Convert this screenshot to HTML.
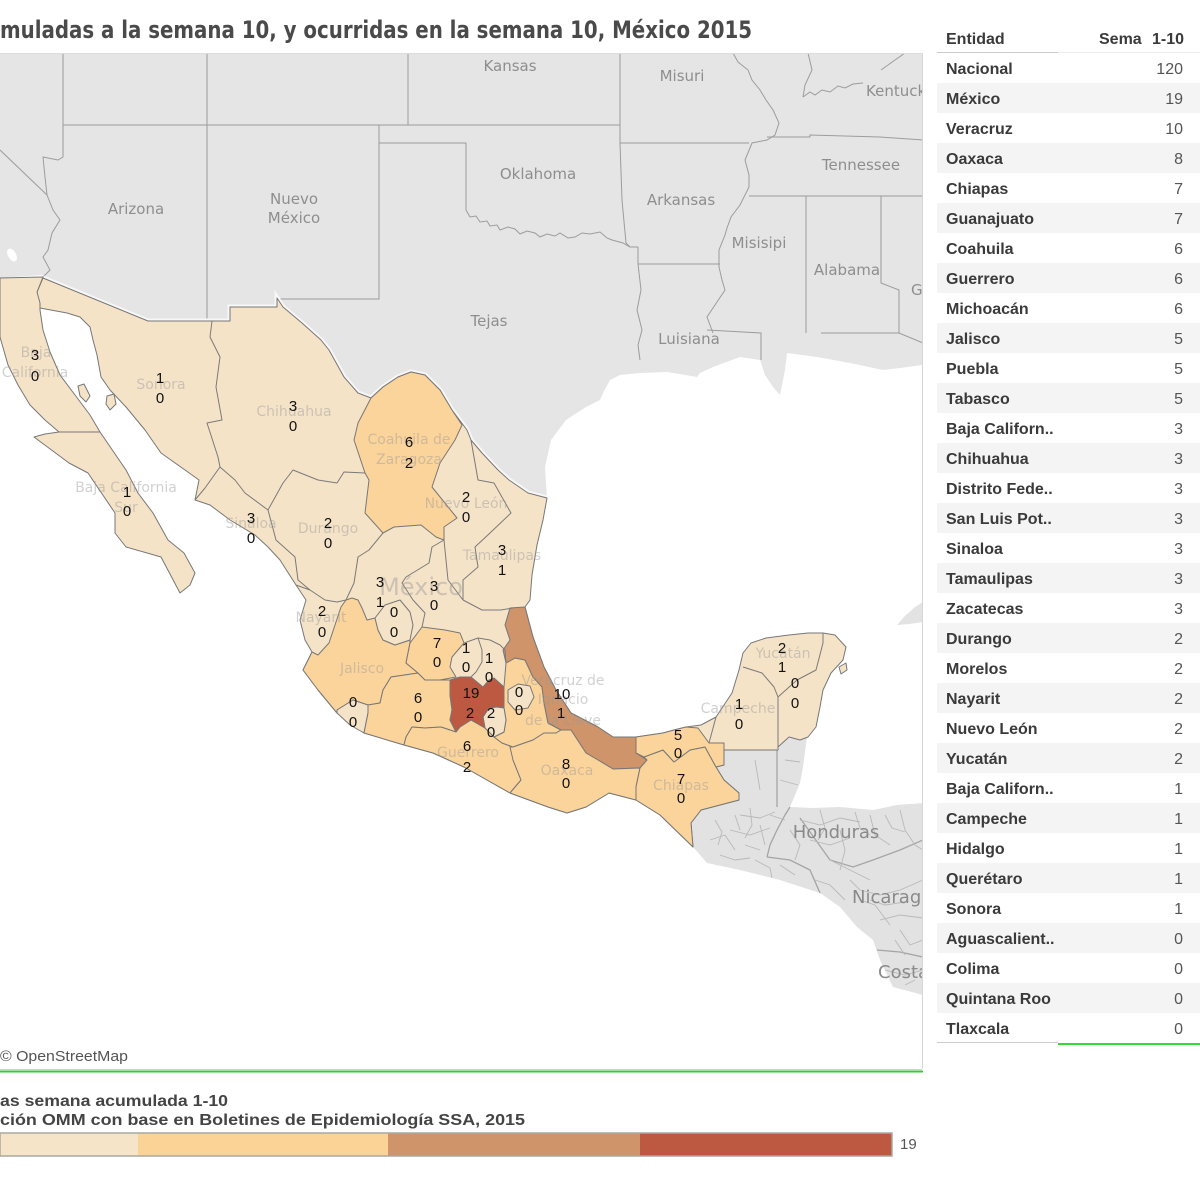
<!DOCTYPE html>
<html><head><meta charset="utf-8"><style>
html,body{margin:0;padding:0;background:#fff;width:1200px;height:1199px;overflow:hidden}
svg{display:block}
.us{font-family:"DejaVu Sans",sans-serif;font-size:15px;fill:#8e8e8e}
.ca{font-family:"DejaVu Sans",sans-serif;font-size:18px;fill:#8a8a8a}
.st{font-family:"DejaVu Sans",sans-serif;font-size:14px;fill:#9a9a9a;opacity:.45;text-anchor:middle}
.n{font-family:"Liberation Sans",Arial,sans-serif;font-size:15px;fill:#111;text-anchor:middle}
.tb{font-family:"Liberation Sans",Arial,sans-serif;font-size:16px;font-weight:bold;fill:#3a3a3a}
.tv{font-family:"Liberation Sans",Arial,sans-serif;font-size:16px;fill:#555;text-anchor:end}
.ln{fill:none;stroke:#9c9c9c;stroke-width:1}
.mx{stroke:#777;stroke-width:1;stroke-linejoin:round}
.ib{fill:none;stroke:#7a7a7a;stroke-width:1;stroke-linejoin:round}
.cl{fill:none;stroke:#b8b8b8;stroke-width:.9}
</style></head><body>
<svg width="1200" height="1199" viewBox="0 0 1200 1199" xmlns="http://www.w3.org/2000/svg">
<defs><clipPath id="mc"><rect x="0" y="54" width="922" height="1015"/></clipPath></defs>

<text x="0" y="38" font-family="DejaVu Sans Condensed, DejaVu Sans, sans-serif" font-size="24" font-weight="bold" fill="#4a4a4a" textLength="752" lengthAdjust="spacingAndGlyphs">muladas a la semana 10, y ocurridas en la semana 10, México 2015</text>

<g clip-path="url(#mc)">
<rect x="0" y="53" width="922" height="1017" fill="#fff"/>
<path fill="#e5e5e5" d="M0,53 L922,53 L922,365 L900,368 L883,370 L850,363 L817,357 L787,353 L785,370 L780,395 L773,387 L765,375 L760,360 L740,357 L713,367 L700,373 L697,377 L667,372 L640,373 L620,375 L610,380 L603,393 L600,400 L586,407 L566,420 L551,440 L545,467 L547,498 L528,493 L509,480 L498,470 L482,453 L471,440 L467,430 L452,410 L440,390 L425,375 L411,372 L398,377 L383,387 L371,398 L358,393 L344,377 L329,350 L321,340 L302,323 L283,307 L277,298 L277,307 L230,307 L230,321 L148,321 L43,280 L43,275 L0,278 Z"/>
<ellipse cx="12" cy="255" rx="4" ry="7" fill="#fff" transform="rotate(-30 12 255)"/>
<path fill="#e3e3e3" d="M897,625 L905,616 L915,607 L923,602 L923,622 L910,624 Z"/>
<path fill="#e2e2e2" d="M724,750 L777,750 L777,742 L790,738 L797,733 L807,737 L803,767 L800,783 L790,807 L813,808 L840,807 L873,810 L897,805 L923,803 L923,995 L893,987 L880,960 L873,940 L857,927 L840,907 L820,893 L780,880 L740,870 L707,863 L693,847 L691,823 L701,810 L739,800 L739,793 L724,780 L716,767 L724,765 Z"/>
<g class="cl">
<path d="M777,750 L777,807" stroke="#a5a5a5" stroke-width="1.3"/>
<path d="M790,807 L785,815 L777,830 L770,845 L767,857" stroke="#a5a5a5" stroke-width="1.3"/>
<path d="M767,857 L790,860 L810,870 L820,893" stroke="#a5a5a5" stroke-width="1.3"/>
<path d="M800,818 L830,860 L853,867 L873,860 L900,850 L923,840" stroke="#a5a5a5" stroke-width="1.3"/>
<path d="M877,950 L900,952 L923,957" stroke="#a5a5a5" stroke-width="1.3"/>
<path d="M725,790 L738,796"/><path d="M740,815 L760,818 L775,812"/><path d="M730,830 L750,835 L770,828"/>
<path d="M745,845 L760,850"/><path d="M710,840 L725,835 L735,850"/><path d="M800,820 L820,825 L840,818 L860,822"/>
<path d="M810,840 L830,845 L850,838"/><path d="M830,860 L850,870 L870,880"/><path d="M860,890 L880,895 L900,890 L923,880"/>
<path d="M880,920 L900,915 L923,918"/><path d="M790,830 L800,845 L795,860"/><path d="M840,830 L845,850 L840,870"/>
<path d="M760,825 L765,845"/><path d="M900,810 L905,830 L915,845 L923,850"/><path d="M785,760 L800,762"/>
<path d="M780,780 L798,785"/><path d="M755,760 L760,790"/><path d="M870,815 L875,835 L890,845"/>
<path d="M860,900 L875,905 L890,925"/><path d="M900,930 L910,945 L923,940"/><path d="M885,970 L905,975 L923,970"/>
<path d="M720,855 L735,860 L750,858"/><path d="M780,865 L795,875"/><path d="M815,880 L830,885 L845,900"/>
<path d="M715,820 L722,832 L718,845"/><path d="M750,808 L752,825 L745,838"/><path d="M735,815 L740,830"/>
<path d="M770,815 L785,820"/><path d="M755,860 L770,868 L772,878"/><path d="M820,810 L825,828 L818,840"/>
<path d="M855,812 L860,828 L870,835"/><path d="M885,815 L892,828 L905,832"/><path d="M850,880 L860,890"/>
<path d="M870,900 L885,905 L905,902"/><path d="M895,940 L905,955"/><path d="M905,985 L915,980"/>
</g>
<g class="ln">
<path d="M63,53 L63,157 L58,160 L43,157 L45,177 L47,195 L53,210 L60,220 L52,233 L48,250 L43,257 L50,270 L43,277"/>
<path d="M0,150 L47,195"/>
<path d="M63,125 L620,125"/>
<path d="M207,53 L207,321"/>
<path d="M408,53 L408,125"/>
<path d="M379,125 L379,143 L466,143 L466,210 L470,217 L476,216 L480,222 L487,221 L490,226 L497,225 L500,230 L508,227 L515,229 L520,234 L527,231 L535,233 L540,237 L547,234 L555,236 L560,233 L568,238 L575,237 L582,233 L590,234 L600,232 L607,238 L612,240 L623,243 L630,247 L638,247"/>
<path d="M379,143 L379,299 L277,299"/>
<path d="M620,53 L620,143 L622,200 L626,243 L630,247"/>
<path d="M620,143 L749,143"/>
<path d="M638,247 L638,264 L641,290 L637,310 L642,330 L638,345 L640,360"/>
<path d="M638,264 L720,264"/>
<path d="M733,53 L738,62 L748,70 L752,80 L760,90 L766,100 L773,110 L779,123 L775,135 L767,140 L752,143 L745,160 L749,175 L749,187 L740,205 L731,217 L727,228 L725,235 L719,250 L719,267 L722,280 L725,290 L715,305 L707,317 L713,333"/>
<path d="M707,330 L761,333 L761,360"/>
<path d="M767,137 L810,137 L810,135 L880,137 L923,140"/>
<path d="M749,196 L923,196"/>
<path d="M806,196 L806,333"/>
<path d="M821,333 L899,333 L923,343"/>
<path d="M881,196 L881,283 L899,290 L899,333"/>
<path d="M803,97 L810,92 L815,95 L822,90 L830,92 L838,86 L845,88 L853,84 L863,83"/>
<path d="M808,53 L812,70 L805,85 L803,97"/>
<path d="M881,70 L895,60 L905,53"/>
</g>
<g class="us">
<text x="510" y="71" text-anchor="middle">Kansas</text>
<text x="682" y="81" text-anchor="middle">Misuri</text>
<text x="866" y="96">Kentucky</text>
<text x="538" y="179" text-anchor="middle">Oklahoma</text>
<text x="861" y="170" text-anchor="middle">Tennessee</text>
<text x="136" y="214" text-anchor="middle">Arizona</text>
<text x="294" y="204" text-anchor="middle">Nuevo</text>
<text x="294" y="223" text-anchor="middle">México</text>
<text x="681" y="205" text-anchor="middle">Arkansas</text>
<text x="759" y="248" text-anchor="middle">Misisipi</text>
<text x="847" y="275" text-anchor="middle">Alabama</text>
<text x="911" y="295">Georgia</text>
<text x="489" y="326" text-anchor="middle">Tejas</text>
<text x="689" y="344" text-anchor="middle">Luisiana</text>
</g>
<g class="ca">
<text x="836" y="838" text-anchor="middle">Honduras</text>
<text x="852" y="903">Nicaragua</text>
<text x="878" y="978">Costa Rica</text>
</g>

<path fill="none" stroke="#f7f7f7" stroke-width="5" d="M43,278 L148,321 L230,321 L230,307 L277,307 L277,298 L283,307 L302,323 L321,340 L329,350 L344,377 L358,393 L371,398 L383,387 L398,377 L411,372 L425,375 L440,390 L452,410 L467,430 L471,440 L482,453 L498,470 L509,480 L528,493 L547,498"/>
<path class="mx" fill="#f5e3c8" d="M43,278 L148,321 L230,321 L230,307 L277,307 L277,298 L283,307 L302,323 L321,340 L329,350 L344,377 L358,393 L371,398 L383,387 L398,377 L411,372 L425,375 L440,390 L452,410 L467,430 L471,440 L482,453 L498,470 L509,480 L528,493 L547,498 L543,520 L537,545 L532,575 L530,600 L525,607 L533,637 L544,667 L556,690 L571,713 L598,727 L613,737 L636,737 L663,733 L674,730 L686,727 L701,725 L716,717 L732,693 L739,670 L743,653 L751,643 L766,638 L789,635 L808,633 L823,633 L835,635 L846,647 L843,660 L831,673 L823,690 L820,707 L816,727 L808,737 L800,740 L789,737 L778,747 L778,750 L724,750 L724,765 L716,767 L724,780 L739,793 L739,800 L701,810 L691,823 L693,847 L660,815 L636,800 L609,793 L586,807 L567,813 L548,807 L510,793 L464,767 L433,753 L404,745 L364,733 L337,713 L318,690 L303,670 L312,652 L305,640 L300,620 L306,600 L296,585 L280,560 L268,547 L255,535 L230,520 L210,505 L195,500 L199,480 L185,470 L161,453 L145,430 L126,407 L110,390 L101,377 L97,355 L93,340 L90,327 L80,317 L67,313 L40,308 L37,292 Z"/>
<path class="mx" fill="#f5e3c8" d="M0,278 L43,277 L37,292 L40,303 L40,310 L43,330 L50,352 L60,375 L75,395 L90,415 L100,432 L59,432 L45,420 L30,405 L18,385 L8,365 L0,337 Z"/>
<path class="mx" fill="#f5e3c8" d="M59,432 L100,432 L126,470 L138,493 L153,513 L168,540 L184,553 L195,573 L190,585 L180,593 L161,557 L126,547 L115,533 L115,513 L88,473 L69,463 L34,437 L45,434 Z"/>
<path class="mx" fill="#f5e3c8" d="M78,386 L84,384 L90,396 L86,402 L80,396 Z"/>
<path class="mx" fill="#f5e3c8" d="M107,396 L114,394 L116,404 L110,410 L106,404 Z"/>
<path class="mx" fill="#f5e3c8" d="M839,667 L846,663 L847,670 L841,674 Z"/>

<path class="mx" fill="#fbd49b" d="M371,398 L383,387 L398,377 L411,372 L425,375 L440,390 L452,410 L462,425 L455,440 L440,463 L432,487 L457,518 L444,527 L444,540 L436,537 L421,525 L394,527 L383,533 L365,513 L369,480 L365,473 L354,440 L358,423 Z"/>
<path class="mx" fill="#fbd49b" d="M303,670 L312,652 L318,655 L329,643 L335,625 L341,607 L346,600 L352,598 L358,600 L362,608 L367,620 L375,618 L378,630 L383,640 L395,645 L410,640 L410,643 L406,663 L418,673 L391,677 L383,690 L380,703 L368,705 L353,700 L337,710 L337,713 L318,690 Z"/>
<path class="mx" fill="#f5e3c8" d="M337,713 L337,710 L353,700 L368,705 L368,713 L364,733 L350,725 Z"/>
<path class="mx" fill="#f5e3c8" d="M375,618 L385,605 L400,600 L410,612 L413,625 L410,640 L395,645 L383,640 L378,630 Z"/>
<path class="mx" fill="#fbd49b" d="M383,690 L391,677 L418,673 L425,680 L440,680 L450,680 L450,695 L452,710 L450,720 L456,732 L441,727 L425,728 L412,727 L406,737 L404,745 L364,733 L368,713 L368,705 L380,703 Z"/>
<path class="mx" fill="#fbd49b" d="M410,643 L422,627 L445,630 L460,633 L464,643 L452,657 L450,667 L456,677 L440,680 L425,680 L418,673 L406,663 Z"/>
<path class="mx" fill="#fbd49b" d="M404,745 L406,737 L412,727 L425,728 L441,727 L456,732 L460,727 L471,720 L485,728 L494,737 L502,743 L513,747 L513,760 L521,780 L510,793 L464,767 L433,753 Z"/>
<path class="mx" fill="#fbd49b" d="M506,663 L515,658 L525,660 L533,677 L542,687 L544,703 L548,723 L561,730 L556,733 L544,733 L533,740 L513,747 L502,743 L494,737 L504,732 L506,720 L504,708 L504,687 Z"/>
<path class="mx" fill="#f5e3c8" d="M508,690 L518,684 L530,686 L534,697 L528,708 L515,710 L508,702 Z"/>
<path class="mx" fill="#f5e3c8" d="M483,717 L489,708 L496,707 L504,708 L506,720 L504,732 L494,737 L485,728 Z"/>
<path class="mx" fill="#bd5841" d="M450,680 L460,677 L471,677 L483,687 L489,680 L494,678 L504,687 L504,707 L496,707 L489,708 L483,717 L485,728 L471,720 L460,727 L456,732 L450,720 L452,710 L450,695 Z"/>
<path class="mx" fill="#cf946a" d="M510,608 L525,607 L533,637 L544,667 L556,690 L571,713 L598,727 L613,737 L636,737 L636,753 L647,760 L640,768 L613,769 L598,760 L586,753 L571,730 L561,730 L548,723 L544,703 L542,687 L533,677 L525,660 L515,658 L506,663 L503,650 L510,640 L505,625 Z"/>
<path class="mx" fill="#fbd49b" d="M510,747 L513,747 L533,740 L544,733 L556,733 L561,730 L571,730 L586,753 L598,760 L613,769 L640,768 L636,787 L636,800 L609,793 L586,807 L567,813 L548,807 L510,793 L521,780 L513,760 Z"/>
<path class="mx" fill="#fbd49b" d="M640,768 L647,760 L644,757 L663,750 L674,762 L690,750 L705,747 L716,767 L724,780 L739,793 L739,800 L701,810 L691,823 L693,847 L660,815 L636,800 L636,787 Z"/>
<path class="mx" fill="#fbd49b" d="M636,737 L663,733 L674,730 L686,727 L698,728 L709,743 L724,743 L724,765 L716,767 L705,747 L690,750 L674,762 L663,750 L644,757 L636,753 Z"/>

<g class="ib">
<path d="M212,321 L210,337 L220,357 L216,387 L222,420 L207,423 L218,457 L220,467"/>
<path d="M195,500 L205,488 L220,467"/>
<path d="M220,467 L235,480 L245,493 L268,510"/>
<path d="M268,510 L283,483 L293,470 L318,480 L337,483 L344,472 L365,473"/>
<path d="M268,510 L276,540 L295,557 L298,580 L310,590 L325,600 L337,602 L346,600"/>
<path d="M296,585 L310,590"/>
<path d="M383,533 L369,550 L358,557 L354,583 L346,600"/>
<path d="M444,540 L432,547 L429,563 L406,577 L402,583 L413,600 L425,613 L422,627"/>
<path d="M444,540 L448,580 L463,600"/>
<path d="M471,440 L478,480 L494,483 L511,513 L490,533 L475,547 L478,567 L463,580 L463,600"/>
<path d="M463,600 L482,610 L501,610 L513,608"/>
<path d="M464,643 L478,638 L490,640 L500,645 L505,650 L506,663"/>
<path d="M478,638 L482,650 L482,662 L476,672 L471,677"/>
<path d="M743,667 L762,673 L774,687 L778,697"/>
<path d="M778,697 L778,750"/>
<path d="M778,697 L797,680 L816,670 L823,643 L823,633"/>
<path d="M709,743 L716,717"/>
</g>

<g class="st">
<text x="36" y="357">Baja</text><text x="35" y="377">California</text>
<text x="161" y="389">Sonora</text>
<text x="294" y="416">Chihuahua</text>
<text x="409" y="444">Coahuila de</text><text x="409" y="464">Zaragoza</text>
<text x="466" y="508">Nuevo León</text>
<text x="502" y="560">Tamaulipas</text>
<text x="126" y="492">Baja California</text><text x="126" y="512">Sur</text>
<text x="251" y="528">Sinaloa</text>
<text x="328" y="533">Durango</text>
<text x="421" y="595" style="font-size:24px">México</text>
<text x="321" y="622">Nayarit</text>
<text x="362" y="673">Jalisco</text>
<text x="563" y="685">Veracruz de</text><text x="563" y="704">Ignacio</text><text x="563" y="725">de la Llave</text>
<text x="468" y="757">Guerrero</text>
<text x="567" y="775">Oaxaca</text>
<text x="681" y="790">Chiapas</text>
<text x="738" y="713">Campeche</text>
<text x="783" y="658">Yucatán</text>
</g>

<g class="n">
<text x="35" y="360">3</text><text x="35" y="381">0</text>
<text x="160" y="383">1</text><text x="160" y="403">0</text>
<text x="293" y="411">3</text><text x="293" y="431">0</text>
<text x="409" y="447">6</text><text x="409" y="468">2</text>
<text x="466" y="502">2</text><text x="466" y="522">0</text>
<text x="502" y="555">3</text><text x="502" y="575">1</text>
<text x="127" y="497">1</text><text x="127" y="516">0</text>
<text x="251" y="523">3</text><text x="251" y="543">0</text>
<text x="328" y="528">2</text><text x="328" y="548">0</text>
<text x="380" y="587">3</text><text x="380" y="607">1</text>
<text x="434" y="591">3</text><text x="434" y="610">0</text>
<text x="322" y="616">2</text><text x="322" y="637">0</text>
<text x="394" y="617">0</text><text x="394" y="637">0</text>
<text x="437" y="648">7</text><text x="437" y="667">0</text>
<text x="466" y="653">1</text><text x="466" y="672">0</text>
<text x="489" y="663">1</text><text x="489" y="682">0</text>
<text x="471" y="698">19</text><text x="470" y="718">2</text>
<text x="491" y="718">2</text><text x="491" y="737">0</text>
<text x="519" y="697">0</text><text x="519" y="715">0</text>
<text x="562" y="699">10</text><text x="561" y="718">1</text>
<text x="418" y="703">6</text><text x="418" y="722">0</text>
<text x="353" y="707">0</text><text x="353" y="727">0</text>
<text x="467" y="751">6</text><text x="467" y="772">2</text>
<text x="566" y="769">8</text><text x="566" y="788">0</text>
<text x="678" y="740">5</text><text x="678" y="758">0</text>
<text x="681" y="784">7</text><text x="681" y="803">0</text>
<text x="739" y="709">1</text><text x="739" y="729">0</text>
<text x="782" y="653">2</text><text x="782" y="672">1</text>
<text x="795" y="688">0</text><text x="795" y="708">0</text>
</g>

<text x="0" y="1061" font-family="Liberation Sans, Arial, sans-serif" font-size="15" fill="#555" textLength="128" lengthAdjust="spacingAndGlyphs">© OpenStreetMap</text>
</g>

<line x1="0" y1="53.5" x2="922" y2="53.5" stroke="#dcdcdc"/>
<line x1="922.5" y1="53" x2="922.5" y2="1069" stroke="#d6d6d6"/>
<line x1="0" y1="1069.5" x2="922" y2="1069.5" stroke="#cfcfcf"/>
<line x1="0" y1="1071.5" x2="923" y2="1071.5" stroke="#33cc33" stroke-width="2"/>

<g>
<rect x="937" y="83" width="263" height="30" fill="#f4f4f4"/>
<rect x="937" y="143" width="263" height="30" fill="#f4f4f4"/>
<rect x="937" y="203" width="263" height="30" fill="#f4f4f4"/>
<rect x="937" y="263" width="263" height="30" fill="#f4f4f4"/>
<rect x="937" y="323" width="263" height="30" fill="#f4f4f4"/>
<rect x="937" y="383" width="263" height="30" fill="#f4f4f4"/>
<rect x="937" y="443" width="263" height="30" fill="#f4f4f4"/>
<rect x="937" y="503" width="263" height="30" fill="#f4f4f4"/>
<rect x="937" y="563" width="263" height="30" fill="#f4f4f4"/>
<rect x="937" y="623" width="263" height="30" fill="#f4f4f4"/>
<rect x="937" y="683" width="263" height="30" fill="#f4f4f4"/>
<rect x="937" y="743" width="263" height="30" fill="#f4f4f4"/>
<rect x="937" y="803" width="263" height="30" fill="#f4f4f4"/>
<rect x="937" y="863" width="263" height="30" fill="#f4f4f4"/>
<rect x="937" y="923" width="263" height="30" fill="#f4f4f4"/>
<rect x="937" y="983" width="263" height="30" fill="#f4f4f4"/>
<line x1="937" y1="52.5" x2="1058" y2="52.5" stroke="#cccccc"/>
<line x1="1058" y1="52.5" x2="1200" y2="52.5" stroke="#ececec"/>
<line x1="937" y1="1042.5" x2="1058" y2="1042.5" stroke="#cccccc"/>
<line x1="1058" y1="1044" x2="1200" y2="1044" stroke="#33dd33" stroke-width="2"/>
<text class="tb" x="946" y="44">Entidad</text>
<text class="tb" x="1099" y="44">Sema</text>
<text class="tb" x="1184" y="44" text-anchor="end">1-10</text>
<g class="tb">
<text x="946" y="74">Nacional</text>
<text x="946" y="104">México</text>
<text x="946" y="134">Veracruz</text>
<text x="946" y="164">Oaxaca</text>
<text x="946" y="194">Chiapas</text>
<text x="946" y="224">Guanajuato</text>
<text x="946" y="254">Coahuila</text>
<text x="946" y="284">Guerrero</text>
<text x="946" y="314">Michoacán</text>
<text x="946" y="344">Jalisco</text>
<text x="946" y="374">Puebla</text>
<text x="946" y="404">Tabasco</text>
<text x="946" y="434">Baja Californ..</text>
<text x="946" y="464">Chihuahua</text>
<text x="946" y="494">Distrito Fede..</text>
<text x="946" y="524">San Luis Pot..</text>
<text x="946" y="554">Sinaloa</text>
<text x="946" y="584">Tamaulipas</text>
<text x="946" y="614">Zacatecas</text>
<text x="946" y="644">Durango</text>
<text x="946" y="674">Morelos</text>
<text x="946" y="704">Nayarit</text>
<text x="946" y="734">Nuevo León</text>
<text x="946" y="764">Yucatán</text>
<text x="946" y="794">Baja Californ..</text>
<text x="946" y="824">Campeche</text>
<text x="946" y="854">Hidalgo</text>
<text x="946" y="884">Querétaro</text>
<text x="946" y="914">Sonora</text>
<text x="946" y="944">Aguascalient..</text>
<text x="946" y="974">Colima</text>
<text x="946" y="1004">Quintana Roo</text>
<text x="946" y="1034">Tlaxcala</text>
</g>
<g class="tv">
<text x="1183" y="74">120</text>
<text x="1183" y="104">19</text>
<text x="1183" y="134">10</text>
<text x="1183" y="164">8</text>
<text x="1183" y="194">7</text>
<text x="1183" y="224">7</text>
<text x="1183" y="254">6</text>
<text x="1183" y="284">6</text>
<text x="1183" y="314">6</text>
<text x="1183" y="344">5</text>
<text x="1183" y="374">5</text>
<text x="1183" y="404">5</text>
<text x="1183" y="434">3</text>
<text x="1183" y="464">3</text>
<text x="1183" y="494">3</text>
<text x="1183" y="524">3</text>
<text x="1183" y="554">3</text>
<text x="1183" y="584">3</text>
<text x="1183" y="614">3</text>
<text x="1183" y="644">2</text>
<text x="1183" y="674">2</text>
<text x="1183" y="704">2</text>
<text x="1183" y="734">2</text>
<text x="1183" y="764">2</text>
<text x="1183" y="794">1</text>
<text x="1183" y="824">1</text>
<text x="1183" y="854">1</text>
<text x="1183" y="884">1</text>
<text x="1183" y="914">1</text>
<text x="1183" y="944">0</text>
<text x="1183" y="974">0</text>
<text x="1183" y="1004">0</text>
<text x="1183" y="1034">0</text>
</g>
</g>

<text x="0" y="1106" font-family="Liberation Sans, Arial, sans-serif" font-size="16" font-weight="bold" fill="#444" textLength="228" lengthAdjust="spacingAndGlyphs">as semana acumulada 1-10</text>
<text x="0" y="1125" font-family="Liberation Sans, Arial, sans-serif" font-size="16" font-weight="bold" fill="#444" textLength="525" lengthAdjust="spacingAndGlyphs">ción OMM con base en Boletines de Epidemiología SSA, 2015</text>
<rect x="0" y="1133" width="138" height="23" fill="#f6e4c8"/>
<rect x="138" y="1133" width="250" height="23" fill="#fbd396"/>
<rect x="388" y="1133" width="252" height="23" fill="#cf946a"/>
<rect x="640" y="1133" width="252" height="23" fill="#bd5841"/>
<rect x="0" y="1133" width="892" height="23" fill="none" stroke="#a9a9a0" stroke-width="1.5"/>
<text x="900" y="1149" font-family="Liberation Sans, Arial, sans-serif" font-size="15" fill="#555">19</text>
</svg>
</body></html>
